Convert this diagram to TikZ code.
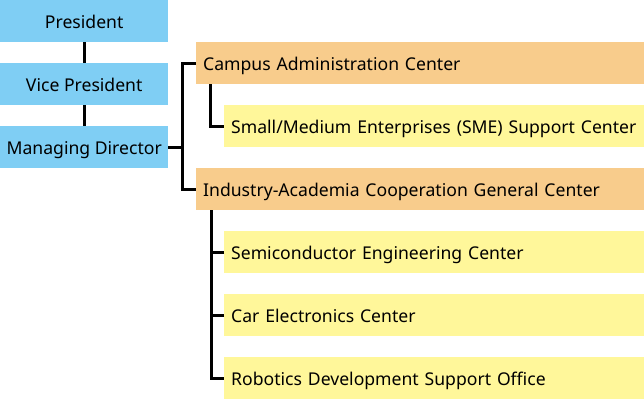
\documentclass[tikz,border=0pt]{standalone}
\usepackage{fontspec}
\setmainfont{Noto Sans}
\definecolor{cblue}{HTML}{7FCEF4}
\definecolor{corange}{HTML}{F8CC8C}
\definecolor{cyellow}{HTML}{FFF79A}
\begin{document}
\begin{tikzpicture}[x=1pt,y=-1pt,
  box/.style={inner ysep=0pt, minimum height=42pt, text height=16pt, text depth=2pt, anchor=north west, font=\fontsize{17.6}{19}\selectfont},
  topbox/.style={box, fill=cblue, inner xsep=0pt, minimum width=168pt, align=center},
  centerbox/.style={box, fill=corange, inner xsep=7pt, text width=434pt, align=left},
  unitbox/.style={box, fill=cyellow, inner xsep=7pt, text width=406pt, align=left},
  link/.style={draw=black, line width=3pt}]
\useasboundingbox (0,0) rectangle (644,400);
\node[topbox] (pres) at (0,0) {President};
\node[topbox] (vp) at (0,63) {Vice President};
\node[topbox] (md) at (0,126) {Managing Director};
\node[centerbox] (campus) at (196,42) {Campus Administration Center};
\node[unitbox] (sme) at (224,105) {Small/Medium Enterprises (SME) Support Center};
\node[centerbox] (ind) at (196,168) {Industry-Academia Cooperation General Center};
\node[unitbox] (semi) at (224,231) {Semiconductor Engineering Center};
\node[unitbox] (car) at (224,294) {Car Electronics Center};
\node[unitbox] (robot) at (224,357) {Robotics Development Support Office};
\coordinate (br) at ([xshift=-14pt]campus.west);
\coordinate (cx) at ([xshift=14pt]campus.south west);
\coordinate (ix) at ([xshift=15pt]ind.south west);
\draw[link] (pres.south) -- (vp.north);
\draw[link] (vp.south) -- (md.north);
\draw[link] (md.east) -- (md.east -| br);
\draw[link] (campus.west) -- (br) |- (ind.west);
\draw[link] (cx) |- (sme.west);
\draw[link] (ix) |- (robot.west);
\draw[link] (semi.west) -- (semi.west -| ix);
\draw[link] (car.west) -- (car.west -| ix);
\end{tikzpicture}
\end{document}
